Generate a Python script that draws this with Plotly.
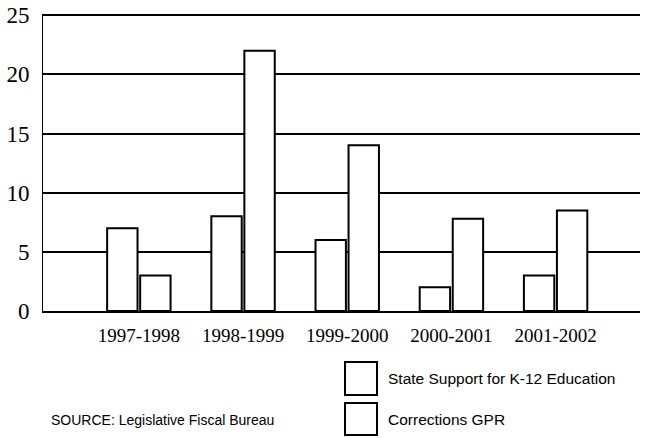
import plotly.graph_objects as go

categories = ["1997-1998", "1998-1999", "1999-2000", "2000-2001", "2001-2002"]
k12_values = [7, 8, 6, 2, 3]
corrections_values = [3, 22, 14, 7.8, 8.5]
series_names = ["State Support for K-12 Education", "Corrections GPR"]
y_ticks = [0, 5, 10, 15, 20, 25]

W, H = 646, 438
L, R, T, B = 43, 6, 14, 127
PW, PH = W - L - R, H - T - B


def px_x(p):
    return (p - L) / PW


def px_y(p):
    return (H - B - p) / PH


fig = go.Figure()
for name, vals in zip(series_names, [k12_values, corrections_values]):
    fig.add_trace(go.Bar(
        x=categories, y=vals, name=name,
        marker=dict(color="white", line=dict(color="black", width=2)),
        showlegend=False,
    ))

serif = "Liberation Serif, Times New Roman, serif"
sans = "Liberation Sans, Arial, sans-serif"

fig.update_layout(
    width=W, height=H,
    margin=dict(l=L, r=R, t=T, b=B, autoexpand=False),
    paper_bgcolor="white", plot_bgcolor="white",
    barmode="group", bargap=0.366, bargroupgap=0.08,
    xaxis=dict(
        type="category", range=[-0.92, 4.81], automargin=False,
        showgrid=False, showline=True, linecolor="black", linewidth=2,
        ticks="", ticklabelstandoff=6,
        tickfont=dict(family=serif, size=19, color="black"),
    ),
    yaxis=dict(
        range=[0, 25.1], tickvals=y_ticks, ticktext=[str(v) for v in y_ticks],
        automargin=False,
        showgrid=True, gridcolor="black", gridwidth=2,
        showline=True, linecolor="black", linewidth=1,
        zeroline=False, ticks="", ticklabelstandoff=8,
        tickfont=dict(family=serif, size=23, color="black"),
    ),
)

# legend drawn as boxes + labels
legend_rows = [(362, 395), (403, 435)]
for (y0, y1), name in zip(legend_rows, series_names):
    fig.add_shape(type="rect", xref="paper", yref="paper",
                  x0=px_x(345), x1=px_x(377), y0=px_y(y1), y1=px_y(y0),
                  line=dict(color="black", width=2), fillcolor="white")
    fig.add_annotation(xref="paper", yref="paper", x=px_x(386), y=px_y((y0 + y1) / 2),
                       text=name, showarrow=False, xanchor="left", yanchor="middle",
                       font=dict(family=sans, size=15.5, color="black"))

fig.add_annotation(xref="paper", yref="paper", x=px_x(49), y=px_y(420),
                   text="SOURCE: Legislative Fiscal Bureau", showarrow=False,
                   xanchor="left", yanchor="middle",
                   font=dict(family=sans, size=14, color="black"))

fig.write_html("out.html", config={"displayModeBar": False},
               post_script="document.body.style.margin='0';document.body.style.overflow='hidden';")
